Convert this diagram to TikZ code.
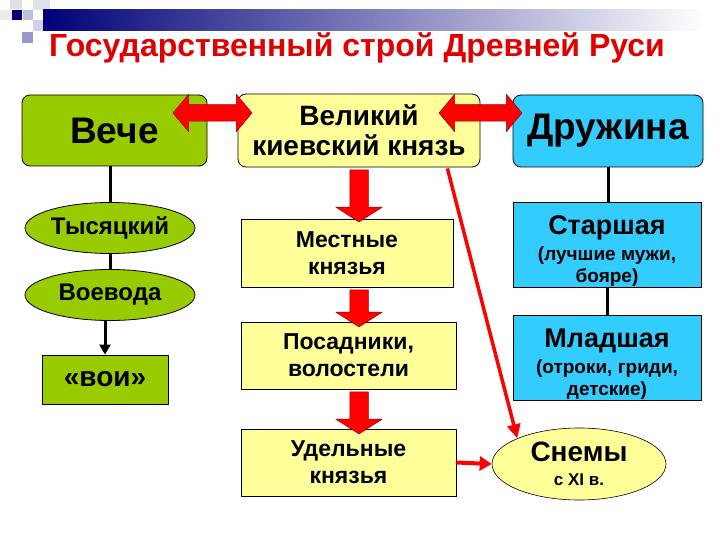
\documentclass[tikz,border=0pt]{standalone}
\usepackage{fontspec}
\setmainfont{Liberation Sans}
\usetikzlibrary{shapes.geometric,shapes.arrows,arrows.meta,calc}
\definecolor{Gfill}{RGB}{153,204,0}
\definecolor{Yfill}{RGB}{255,255,153}
\definecolor{Bfill}{RGB}{51,204,255}
\definecolor{Rfill}{RGB}{255,0,0}
\definecolor{Rline}{RGB}{150,0,0}
\definecolor{Navy}{RGB}{0,0,120}
\definecolor{Tred}{RGB}{225,0,0}

\begin{document}
\begin{tikzpicture}[x=1pt,y=-1pt,line join=round,
  box/.style={draw,line width=0.8pt,inner sep=0pt,align=center,font=\bfseries\fontsize{23}{27}\selectfont},
  rbox/.style={box,rounded corners=8pt},
  oval/.style={box,ellipse},
  blockdown/.style={single arrow,shape border rotate=270,fill=Rfill,draw=Rline,line width=0.5pt,
    inner sep=9pt,single arrow head extend=14pt,single arrow tip angle=115},
  blockboth/.style={double arrow,fill=Rfill,draw=Rline,line width=0.5pt,
    inner sep=8pt,double arrow head extend=10.5pt,double arrow tip angle=100},
  link/.style={line width=3pt}]
\path[use as bounding box,fill=white] (0,0) rectangle (720,540);
% header
\fill[black!12!white] (10,0) rectangle (22,9);
\fill[black!8!white] (0,10) rectangle (12,20);
\fill[Navy!25!white] (23,10) rectangle (33,20);
\fill[Navy!12!white] (33,0) rectangle (50,10);
\fill[Navy!40!white] (22,32) rectangle (33,43);
\fill[Navy!18!white] (33,20) rectangle (43,31);
\fill[Navy] (12,10) rectangle (22,20);
\shade[left color=Navy,right color=white] (43,10) rectangle (705,31);
\node[font=\bfseries\fontsize{32}{34}\selectfont,text=Tred] (title) at (357,48) {Государственный строй Древней Руси};
% left column
\node[rbox,fill=Gfill,minimum width=185pt,minimum height=71pt,font=\bfseries\fontsize{37}{38}\selectfont] (veche) at (114.5,130.5) {Вече};
\node[oval,fill=Gfill,minimum width=170pt,minimum height=51pt,font=\bfseries\fontsize{24}{26}\selectfont] (tys) at (110,228) {Тысяцкий};
\node[oval,fill=Gfill,minimum width=170pt,minimum height=51pt,font=\bfseries\fontsize{24}{26}\selectfont] (voev) at (110,295) {Воевода};
\node[box,fill=Gfill,minimum width=126pt,minimum height=49pt,font=\bfseries\fontsize{28}{30}\selectfont] (voi) at (105,379.5) {«вои»};
% middle column
\node[rbox,fill=Yfill,minimum width=242pt,minimum height=73pt,font=\bfseries\fontsize{28}{30}\selectfont] (prince) at (359,130.5) {Великий\\киевский князь};
\node[box,fill=Yfill,minimum width=212pt,minimum height=68pt] (mest) at (347,253) {Местные\\князья};
\node[box,fill=Yfill,minimum width=215pt,minimum height=67pt] (posad) at (348.5,355.5) {Посадники,\\волостели};
\node[box,fill=Yfill,minimum width=215pt,minimum height=67pt] (udel) at (348.5,462.5) {Удельные\\князья};
% right column
\node[rbox,fill=Bfill,minimum width=190pt,minimum height=72pt,font=\bfseries\fontsize{37}{38}\selectfont] (druzh) at (608,131) {Дружина};
\node[box,fill=Bfill,minimum width=188pt,minimum height=85pt,font=\bfseries\fontsize{19}{22}\selectfont] (star) at (607,244.5)
  {{\fontsize{27}{27}\selectfont\rule{0pt}{31pt}Старшая}\\[4pt](лучшие мужи,\\бояре)};
\node[box,fill=Bfill,minimum width=188pt,minimum height=85pt,font=\bfseries\fontsize{19}{22}\selectfont] (mlad) at (607,357.5)
  {{\fontsize{27}{27}\selectfont\rule{0pt}{32pt}Младшая}\\[4pt](отроки, гриди,\\детские)};
\node[oval,fill=Yfill,line width=0.6pt,minimum width=174pt,minimum height=72pt,font=\bfseries\fontsize{17}{20}\selectfont] (snemy) at (579,464)
  {{\fontsize{28}{28}\selectfont Снемы}\\[4pt]с XI в.};
% links
\draw[link] (tys.north |- veche.south) -- (tys.north);
\draw[link] (tys.south) -- (voev.north);
\draw[link,-{Triangle[length=10pt,width=11pt]}] (voi.north |- voev.south) -- (voi.north);
\draw[link] (druzh.south) -- (druzh.south |- star.north);
\draw[link] (star.south) -- (star.south |- mlad.north);
% red arrows
\node[blockboth,minimum height=79pt] (vp) at (212.5,113) {};
\node[blockboth,minimum height=83pt] (pd) at (480.5,113) {};
\node[blockdown,minimum height=52pt] (pm) at ($(prince.south)!0.5!(prince.south |- mest.north)$) {};
\node[blockdown,minimum height=37pt] (mp) at ($(prince.south |- mest.south)!0.5!(prince.south |- posad.north)+(0,1)$) {};
\node[blockdown,minimum height=42pt] (pu) at ($(prince.south |- posad.south)!0.5!(prince.south |- udel.north)+(0,1)$) {};
\draw[Rfill,line width=3.5pt,-{Triangle[length=14pt,width=13pt]}] ($(prince.south east)+(-33,1)$) -- (snemy.north west);
\draw[Rfill,line width=4pt,-{Triangle[length=12pt,width=14pt]}] (udel.east) -- (snemy.west);
\end{tikzpicture}
\end{document}
